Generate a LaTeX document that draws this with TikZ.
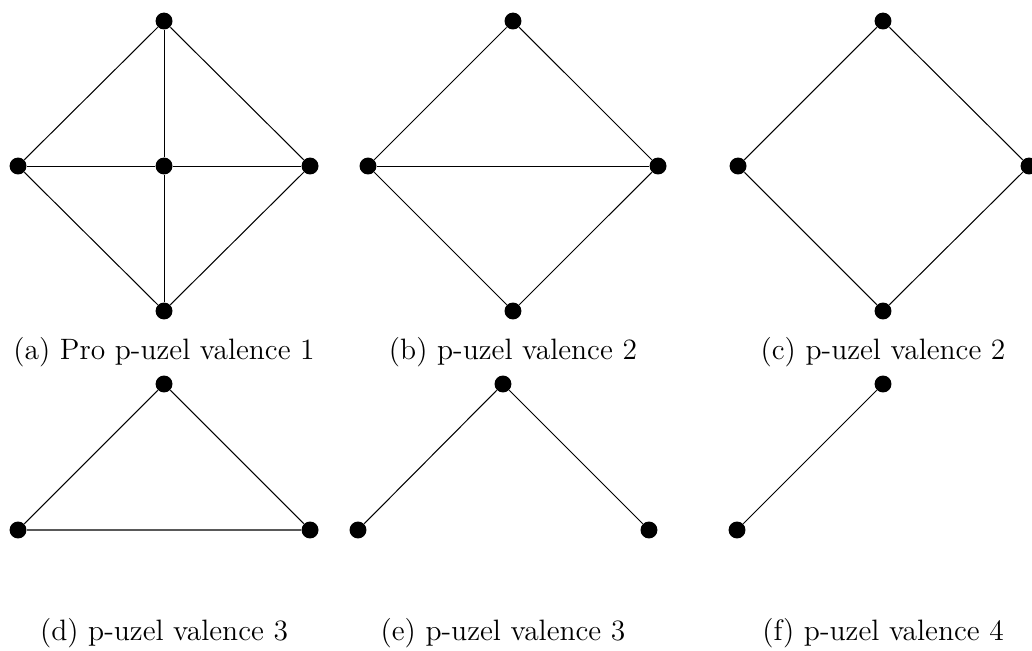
\documentclass[tikz,border=0pt]{standalone}
\usepackage{tikz}

\begin{document}
\begin{tikzpicture}[
  uzel/.style={circle, fill=black, inner sep=0pt, minimum size=6.6pt},
  popis/.style={font=\fontsize{11.5}{13}\selectfont}]
\useasboundingbox (0,0) rectangle (14.137,-8.904);
% (a) ctyri vrcholy kolem stredu
\node[uzel] (a1) at (2.247,-0.288) {};
\node[uzel] (a2) at (0.247,-2.274) {};
\node[uzel] (a3) at (2.247,-2.274) {};
\node[uzel] (a4) at (4.247,-2.274) {};
\node[uzel] (a5) at (2.247,-4.260) {};
\draw (a1) -- (a2) -- (a5) -- (a4) -- (a1);
\draw (a1) -- (a3) -- (a5);
\draw (a2) -- (a3) -- (a4);
\node[popis] (la) at (2.247,-4.82) {(a) Pro p-uzel valence 1};
% (b)
\node[uzel] (b1) at (7.027,-0.288) {};
\node[uzel] (b2) at (5.041,-2.274) {};
\node[uzel] (b4) at (9.014,-2.274) {};
\node[uzel] (b5) at (7.027,-4.260) {};
\draw (b1) -- (b2) -- (b5) -- (b4) -- (b1);
\draw (b2) -- (b4);
\node[popis] (lb) at (7.027,-4.82) {(b) p-uzel valence 2};
% (c)
\node[uzel] (c1) at (12.096,-0.288) {};
\node[uzel] (c2) at (10.110,-2.274) {};
\node[uzel] (c4) at (14.096,-2.274) {};
\node[uzel] (c5) at (12.096,-4.260) {};
\draw (c1) -- (c2) -- (c5) -- (c4) -- (c1);
\node[popis] (lc) at (12.096,-4.82) {(c) p-uzel valence 2};
% (d) trojuhelnik
\node[uzel] (d1) at (2.247,-5.260) {};
\node[uzel] (d2) at (0.247,-7.260) {};
\node[uzel] (d4) at (4.247,-7.260) {};
\draw (d1) -- (d2) -- (d4) -- (d1);
\node[popis] (ld) at (2.247,-8.67) {(d) p-uzel valence 3};
% (e)
\node[uzel] (e1) at (6.890,-5.260) {};
\node[uzel] (e2) at (4.904,-7.260) {};
\node[uzel] (e4) at (8.890,-7.260) {};
\draw (e2) -- (e1) -- (e4);
\node[popis] (le) at (6.890,-8.67) {(e) p-uzel valence 3};
% (f)
\node[uzel] (f1) at (12.096,-5.260) {};
\node[uzel] (f2) at (10.096,-7.260) {};
\draw (f2) -- (f1);
\node[popis] (lf) at (12.096,-8.67) {(f) p-uzel valence 4};
\end{tikzpicture}
\end{document}
